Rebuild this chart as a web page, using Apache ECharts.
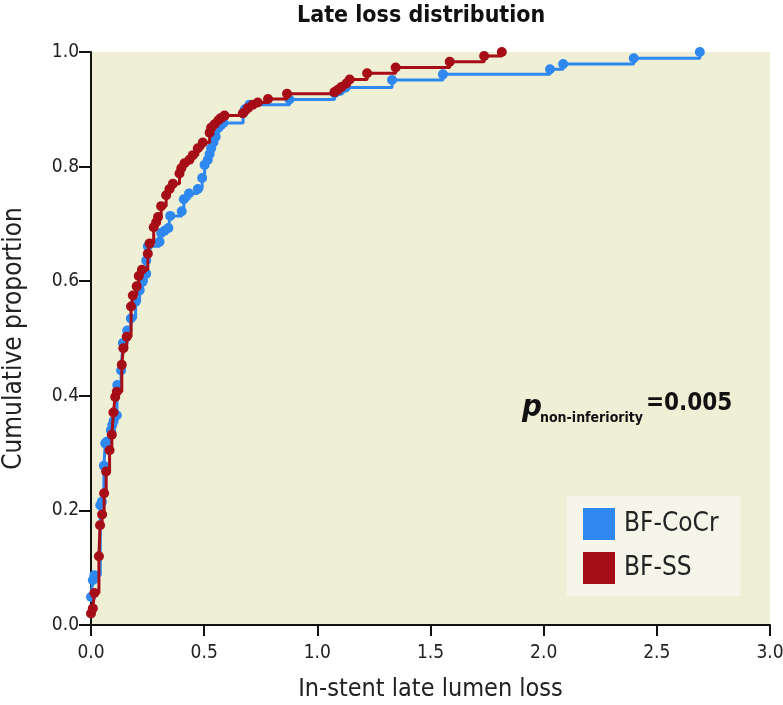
<!DOCTYPE html>
<html><head><meta charset="utf-8">
<script src="https://cdn.jsdelivr.net/npm/echarts@6/dist/echarts.min.js"></script>
<style>html,body{margin:0;padding:0;background:#fff}#c{width:783px;height:705px}</style>
</head><body><div id="c"></div>
<script>
const seriesNames = ['BF-CoCr', 'BF-SS'];
const titleText = 'Late loss distribution';
const xAxisTitle = 'In-stent late lumen loss';
const yAxisTitle = 'Cumulative proportion';

// BF-CoCr: late lumen loss (x) vs cumulative proportion (y)
const cocrX = [0.000,0.008,0.015,0.041,0.048,0.057,0.063,0.070,0.088,0.094,0.100,0.114,0.116,0.133,0.141,0.160,0.176,0.197,0.215,0.228,0.244,0.244,0.251,0.303,0.310,0.325,0.342,0.350,0.401,0.410,0.433,0.472,0.491,0.502,0.516,0.524,0.531,0.541,0.551,0.561,0.585,0.672,0.680,0.700,0.877,1.076,1.100,1.125,1.330,1.555,2.028,2.086,2.398,2.690];
const cocrY = [0.049,0.078,0.087,0.209,0.215,0.278,0.317,0.320,0.340,0.349,0.356,0.366,0.419,0.444,0.492,0.514,0.535,0.564,0.584,0.599,0.613,0.636,0.661,0.669,0.684,0.688,0.693,0.714,0.722,0.743,0.753,0.761,0.780,0.803,0.812,0.822,0.832,0.842,0.852,0.867,0.876,0.893,0.900,0.908,0.917,0.928,0.932,0.938,0.951,0.961,0.970,0.979,0.989,1.000];

// BF-SS
const ssX = [0.000,0.008,0.015,0.035,0.040,0.049,0.058,0.067,0.082,0.092,0.099,0.107,0.114,0.136,0.143,0.158,0.177,0.185,0.202,0.211,0.225,0.251,0.259,0.277,0.288,0.296,0.310,0.332,0.347,0.362,0.391,0.399,0.413,0.435,0.450,0.472,0.494,0.524,0.531,0.546,0.563,0.575,0.590,0.671,0.693,0.715,0.737,0.782,0.866,1.076,1.091,1.106,1.128,1.143,1.220,1.346,1.585,1.737,1.815];
const ssY = [0.020,0.029,0.056,0.120,0.174,0.193,0.230,0.268,0.305,0.332,0.371,0.398,0.407,0.454,0.483,0.503,0.556,0.575,0.591,0.609,0.620,0.648,0.666,0.694,0.703,0.712,0.731,0.750,0.761,0.770,0.788,0.797,0.806,0.812,0.820,0.832,0.842,0.859,0.868,0.874,0.881,0.885,0.889,0.893,0.902,0.908,0.912,0.918,0.927,0.930,0.934,0.939,0.945,0.952,0.963,0.973,0.983,0.993,1.000];

const colors = ['#2e88f0', '#a60d16'];
const FONT = "'Liberation Sans Narrow', 'DejaVu Sans Condensed', sans-serif";

function pairs(xs, ys) { return xs.map((x, i) => [x, ys[i]]); }

const chart = echarts.init(document.getElementById('c'), null, { renderer: 'canvas' });
chart.setOption({
  animation: false,
  backgroundColor: '#ffffff',
  title: {
    text: titleText, left: 292, top: 0,
    textStyle: { fontFamily: FONT, fontSize: 23, fontWeight: 'bold', color: '#111' }
  },
  grid: { left: 91, right: 13, top: 52, bottom: 80, containLabel: false, outerBoundsMode: 'none',
          show: true, backgroundColor: '#efefd6', borderWidth: 0 },
  legend: {
    orient: 'vertical', left: 567, top: 496,
    padding: [12, 22, 12, 16], itemGap: 12,
    itemWidth: 32, itemHeight: 32, icon: 'rect',
    backgroundColor: '#f5f5ea',
    data: seriesNames,
    textStyle: { fontFamily: FONT, fontSize: 26, color: '#222', padding: [0, 0, 0, 4] }
  },
  xAxis: {
    type: 'value', min: 0, max: 3, interval: 0.5,
    name: xAxisTitle, nameLocation: 'middle', nameGap: 52,
    nameTextStyle: { fontFamily: FONT, fontSize: 25, color: '#222' },
    axisLine: { show: true, onZero: false, lineStyle: { color: '#111', width: 2 } },
    axisTick: { show: true, length: 11, lineStyle: { color: '#111', width: 2 } },
    axisLabel: { fontFamily: FONT, fontSize: 19, color: '#222', margin: 19, formatter: v => v.toFixed(1) },
    splitLine: { show: false }
  },
  yAxis: {
    type: 'value', min: 0, max: 1, interval: 0.2,
    name: yAxisTitle, nameLocation: 'middle', nameGap: 64, nameRotate: 90,
    nameTextStyle: { fontFamily: FONT, fontSize: 26, color: '#222' },
    axisLine: { show: true, onZero: false, lineStyle: { color: '#111', width: 2 } },
    axisTick: { show: true, length: 12, lineStyle: { color: '#111', width: 2 } },
    axisLabel: { fontFamily: FONT, fontSize: 19, color: '#222', margin: 12, formatter: v => v.toFixed(1) },
    splitLine: { show: false }
  },
  series: [
    {
      name: seriesNames[0], type: 'line', step: 'end', data: pairs(cocrX, cocrY),
      symbol: 'circle', symbolSize: 10, showSymbol: true, clip: false,
      lineStyle: { color: colors[0], width: 3 }, itemStyle: { color: colors[0] }, z: 2
    },
    {
      name: seriesNames[1], type: 'line', step: 'end', data: pairs(ssX, ssY),
      symbol: 'circle', symbolSize: 10, showSymbol: true, clip: false,
      lineStyle: { color: colors[1], width: 3 }, itemStyle: { color: colors[1] }, z: 3
    }
  ],
  graphic: [
    { type: 'text', left: 522, top: 392, style: { text: 'p', fontFamily: FONT, fontSize: 31, fontWeight: 'bold', fontStyle: 'italic', fill: '#111' } },
    { type: 'text', left: 540, top: 411, style: { text: 'non-inferiority', fontFamily: FONT, fontSize: 14, fontWeight: 'bold', fill: '#111' } },
    { type: 'text', left: 646, top: 392, style: { text: '=0.005', fontFamily: FONT, fontSize: 24, fontWeight: 'bold', fill: '#111' } }
  ]
});
</script>
</body></html>
